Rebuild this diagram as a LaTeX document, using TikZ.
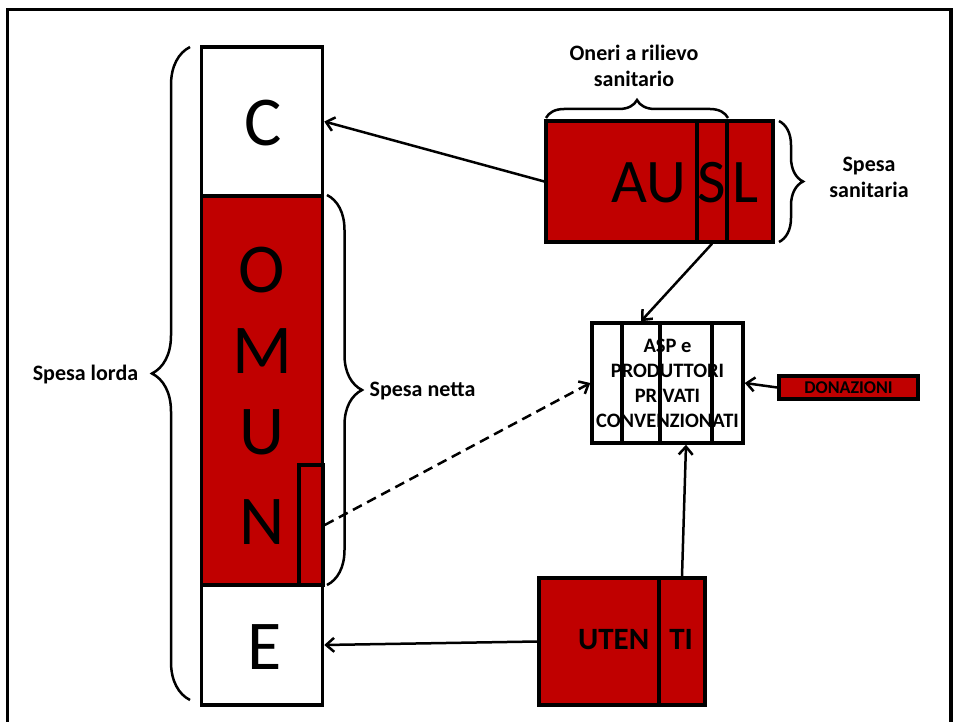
\documentclass[tikz,border=0pt]{standalone}
\usepackage{fontspec}
\setmainfont{Carlito}
\usetikzlibrary{arrows.meta,decorations.pathreplacing,positioning}
\definecolor{rosso}{RGB}{192,0,0}

\tikzset{
  cassa/.style={draw, line width=3.5pt, inner sep=0pt},
  lettera/.style={inner sep=0pt, font=\fontsize{70}{70}\selectfont},
  freccia/.style={-{Straight Barb[length=8pt,width=14pt]}, line width=2.5pt},
  graffa/.style={decorate, line width=2.5pt, decoration={brace, amplitude=#1}},
  etichetta/.style={inner sep=0pt, align=center, anchor=base, font=\fontsize{22}{26}\selectfont\bfseries},
}

\begin{document}
\begin{tikzpicture}[x=1pt,y=-1pt]
		\useasboundingbox (0,0) rectangle (956,722);
		\draw[line width=3.5pt] (7.5,740) -- (7.5,9.5) -- (951,9.5) -- (951,740); % cornice
		% colonna COMUNE
		\node[cassa, minimum width=121, minimum height=149] (c) at (262,121.5) {};
		\node[cassa, fill=rosso, minimum width=121, minimum height=389] (omun) at (262,390.5) {};
		\node[cassa, minimum width=121, minimum height=120] (e) at (262,645) {};
		\node[cassa, fill=rosso, minimum width=24, minimum height=120] (nrett) at (311,525) {};
		\node[lettera] (lc) at (263,123.5) {C};
		\foreach \l/\y in {O/270, M/351, U/432, N/522}
		\node[lettera] (l\l) at (262,\y) {\l};
		\node[lettera] (le) at (264.5,647) {E};
		% AUSL
		\node[cassa, fill=rosso, minimum width=227, minimum height=121] (ausl) at (659.5,181.5) {};
		\node[cassa, minimum width=30, minimum height=121] (ausls) at (712,181.5) {};
		\node[inner sep=0pt, anchor=base, font=\fontsize{62}{62}\selectfont] (auslt) at (685,203) {AU\hspace{11pt}S\hspace{6pt}L};
		% ASP e produttori
		\node[cassa, fill=white, minimum width=151, minimum height=120, align=center, font=\fontsize{20.5}{25}\selectfont\bfseries] (asp) at (667.5,383) {ASP e\\PRODUTTORI\\PRIVATI\\CONVENZIONATI};
		\node[cassa, minimum width=38, minimum height=120] (asp2) at (641,383) {};
		\node[cassa, minimum width=52, minimum height=120] (asp3) at (686,383) {};
		% donazioni
		\node[cassa, fill=rosso, minimum width=139, minimum height=23, font=\fontsize{18}{18}\selectfont\bfseries] (don) at (848.5,387.5) {DONAZIONI};
		% utenti
		\node[cassa, fill=rosso, minimum width=166, minimum height=127] (utenti) at (622,641.5) {};
		\node[cassa, minimum width=46, minimum height=127] (ti) at (682,641.5) {};
		\node[inner sep=0pt, anchor=base, font=\fontsize{31}{31}\selectfont\bfseries] (utentit) at (635.5,649) {UTEN\hspace{20pt}TI};
		% frecce
		\draw[freccia] (ausl.west) -- (c.east);
		\draw[freccia] (ausls.south) -- (asp2.north);
		\draw[freccia] (don.west) -- (asp.east);
		\draw[freccia] (ti.north) -- (asp3.south);
		\draw[freccia] (utenti.west) -- (e.east);
		\draw[freccia, dash pattern=on 10pt off 6pt] (nrett.east) -- (asp.west);
		% graffe
		\draw[graffa=38pt] (190,700) -- (190,47);
		\draw[graffa=35pt] (327,195) -- (327,585);
		\draw[graffa=18pt] (546,118) -- (728,118);
		\draw[graffa=24pt] (779,121) -- (779,242);
		\node[etichetta] (lorda) at (85.5,380) {Spesa lorda};
		\node[etichetta] (netta) at (422.5,396) {Spesa netta};
		\node[etichetta] (oneri) at (634,87) {Oneri a rilievo\\sanitario};
		\node[etichetta] (sanit) at (869,198) {Spesa\\sanitaria};
\end{tikzpicture}
\end{document}
